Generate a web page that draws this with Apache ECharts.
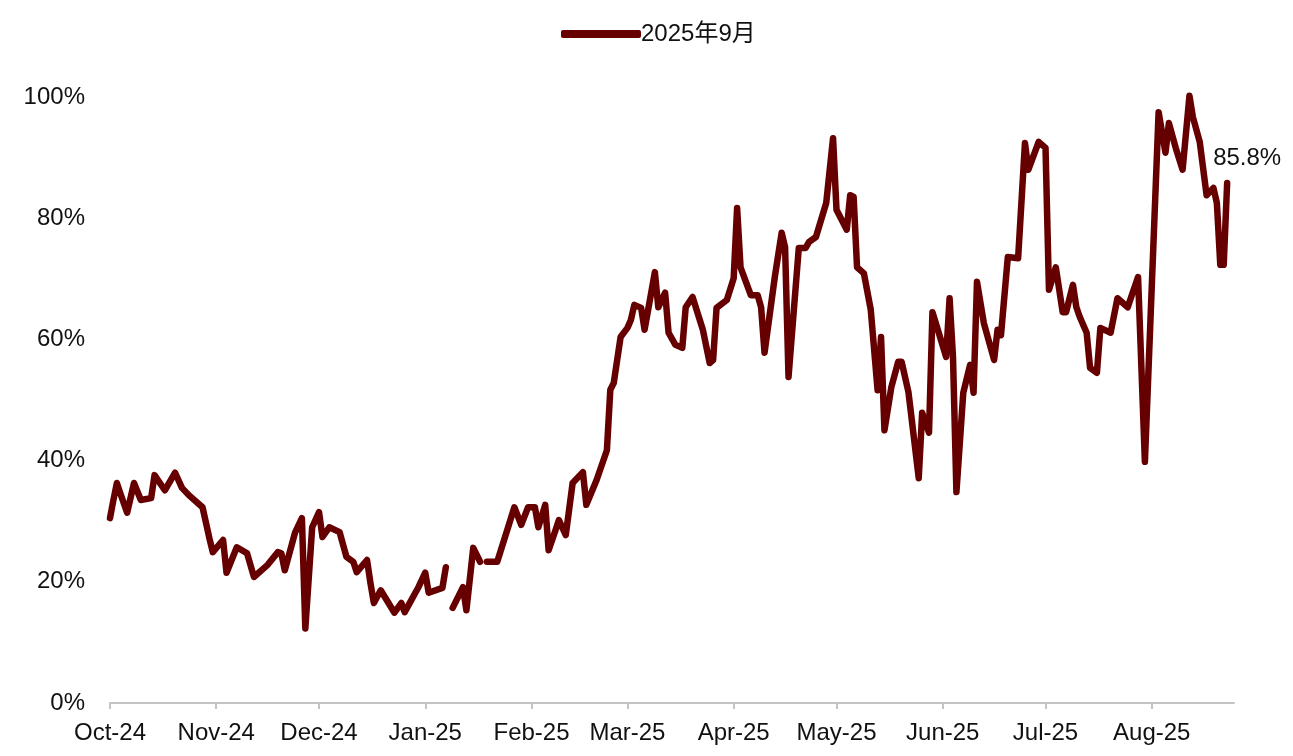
<!DOCTYPE html>
<html>
<head>
<meta charset="utf-8">
<script src="https://cdn.jsdelivr.net/npm/echarts@6/dist/echarts.min.js"></script>
<style>
html,body{margin:0;padding:0;background:#fff;}
#chart{width:1293px;height:756px;}
</style>
</head>
<body>
<div id="chart"></div>
<script>
const seriesName = '2025年9月';
const endLabelText = '85.8%';
const yTicks = [0, 20, 40, 60, 80, 100];
const dates = [
'2024-10-01','2024-10-02','2024-10-03','2024-10-04','2024-10-06','2024-10-08','2024-10-10','2024-10-13','2024-10-14','2024-10-17',
'2024-10-20','2024-10-22','2024-10-24','2024-10-28','2024-10-30','2024-10-31','2024-11-03','2024-11-04','2024-11-07','2024-11-10',
'2024-11-12','2024-11-16','2024-11-19','2024-11-20','2024-11-21','2024-11-24','2024-11-26','2024-11-27','2024-11-29','2024-12-01',
'2024-12-02','2024-12-04','2024-12-07','2024-12-09','2024-12-11','2024-12-12','2024-12-15','2024-12-16','2024-12-17','2024-12-19',
'2024-12-23','2024-12-25','2024-12-26','2024-12-30','2025-01-01','2025-01-02','2025-01-06','2025-01-07','2025-01-08','2025-01-09',
'2025-01-12','2025-01-13','2025-01-15','2025-01-17','2025-01-18','2025-01-19','2025-01-22','2025-01-24','2025-01-27','2025-01-29',
'2025-01-31','2025-02-02','2025-02-03','2025-02-05','2025-02-06','2025-02-08','2025-02-09','2025-02-11','2025-02-13','2025-02-16',
'2025-02-17','2025-02-20','2025-02-23','2025-02-24','2025-02-25','2025-02-27','2025-03-01','2025-03-02','2025-03-03','2025-03-05',
'2025-03-06','2025-03-09','2025-03-10','2025-03-12','2025-03-13','2025-03-15','2025-03-17','2025-03-18','2025-03-20','2025-03-23',
'2025-03-25','2025-03-26','2025-03-27','2025-03-30','2025-04-01','2025-04-02','2025-04-03','2025-04-06','2025-04-08','2025-04-09',
'2025-04-10','2025-04-13','2025-04-15','2025-04-16','2025-04-17','2025-04-20','2025-04-22','2025-04-23','2025-04-25','2025-04-28',
'2025-04-30','2025-05-01','2025-05-04','2025-05-05','2025-05-06','2025-05-07','2025-05-09','2025-05-11','2025-05-13','2025-05-14',
'2025-05-15','2025-05-17','2025-05-19','2025-05-20','2025-05-22','2025-05-25','2025-05-26','2025-05-28','2025-05-29','2025-06-02',
'2025-06-03','2025-06-04','2025-06-05','2025-06-07','2025-06-09','2025-06-10','2025-06-11','2025-06-13','2025-06-16','2025-06-17',
'2025-06-18','2025-06-20','2025-06-23','2025-06-25','2025-06-26','2025-06-29','2025-07-01','2025-07-02','2025-07-04','2025-07-06',
'2025-07-07','2025-07-09','2025-07-10','2025-07-11','2025-07-13','2025-07-14','2025-07-16','2025-07-17','2025-07-20','2025-07-22',
'2025-07-25','2025-07-26','2025-07-28','2025-07-30','2025-08-03','2025-08-05','2025-08-06','2025-08-08','2025-08-10','2025-08-12',
'2025-08-13','2025-08-15','2025-08-17','2025-08-19','2025-08-20','2025-08-21','2025-08-22','2025-08-23'
];
const values = [
30.5,33.5,36.3,34.6,31.4,36.3,33.5,33.8,37.6,35.1,
38.0,35.5,34.3,32.3,27.2,24.9,26.9,21.5,25.7,24.7,
20.8,22.8,24.9,24.7,21.9,28.1,30.5,12.3,29.0,31.5,
27.4,29.0,28.2,24.1,23.3,21.6,23.6,19.8,16.5,18.6,
14.9,16.5,15.0,19.1,21.5,18.2,19.0,22.4,null,15.7,
19.1,15.3,25.6,23.3,null,23.3,23.3,26.9,32.3,29.4,
32.3,32.3,29.0,32.7,25.2,28.5,30.2,27.7,36.3,38.1,
32.7,36.8,41.7,51.7,52.8,60.4,61.9,63.2,65.7,65.2,
61.6,71.1,65.3,67.7,61.1,59.1,58.6,65.3,67.0,61.6,
56.1,56.6,65.2,66.5,70.1,81.7,71.9,67.3,67.3,65.3,
57.8,70.3,77.6,75.2,53.8,75.1,75.1,76.1,76.9,82.5,
93.2,81.4,78.1,83.8,83.5,71.9,70.9,64.9,51.6,60.4,
45.0,52.1,56.3,56.3,51.3,37.1,47.9,44.6,64.5,57.1,
66.8,57.1,34.8,51.2,55.8,51.2,69.5,62.7,56.6,61.6,
60.7,73.6,73.4,92.4,88.0,92.6,91.6,68.2,71.9,64.5,
64.5,69.0,65.3,63.7,61.1,55.3,54.5,61.9,61.1,66.8,
65.3,67.0,70.3,39.8,97.5,90.8,95.7,91.6,88.0,100.2,
96.7,92.6,83.8,85.0,82.5,72.3,72.3,85.8
];
const monthNames = ['Jan','Feb','Mar','Apr','May','Jun','Jul','Aug','Sep','Oct','Nov','Dec'];

const lineColor = '#660000';
const textColor = '#111';
const fontFamily = '"Liberation Sans", Arial, "Noto Sans CJK SC", sans-serif';

const seriesData = dates.map((d, i) => [d, values[i]]);

const chart = echarts.init(document.getElementById('chart'), null, { renderer: 'canvas' });
chart.setOption({
  animation: false,
  backgroundColor: '#fff',
  textStyle: { fontFamily: fontFamily },
  legend: {
    top: 17,
    left: 556,
    data: [{ name: seriesName, icon: 'roundRect' }],
    itemWidth: 80,
    itemHeight: 8,
    itemGap: 4,
    textStyle: { fontSize: 24, color: textColor, fontFamily: fontFamily, padding: [0, 0, 0, -5] }
  },
  grid: { left: 110, right: 59, top: 97, bottom: 53, containLabel: false },
  xAxis: {
    type: 'time',
    min: '2024-10-01',
    max: '2025-08-25',
    minInterval: 28 * 86400000,
    maxInterval: 31 * 86400000,
    splitNumber: 11,
    axisLine: { show: true, lineStyle: { color: '#c4c4c4', width: 2 } },
    axisTick: { show: true, length: 6, lineStyle: { color: '#c4c4c4', width: 2 } },
    splitLine: { show: false },
    minorTick: { show: false },
    axisLabel: {
      color: textColor,
      fontSize: 24,
      margin: 18,
      fontFamily: fontFamily,
      showMaxLabel: false,
      formatter: function (val) {
        const d = new Date(val);
        return monthNames[d.getMonth()] + '-' + String(d.getFullYear()).slice(2);
      }
    }
  },
  yAxis: {
    type: 'value',
    min: yTicks[0],
    max: yTicks[yTicks.length - 1],
    interval: yTicks[1] - yTicks[0],
    axisLine: { show: false },
    axisTick: { show: false },
    splitLine: { show: false },
    axisLabel: {
      color: textColor,
      fontSize: 24,
      margin: 25,
      fontFamily: fontFamily,
      formatter: '{value}%'
    }
  },
  series: [{
    name: seriesName,
    type: 'line',
    data: seriesData,
    showSymbol: false,
    symbol: 'none',
    connectNulls: false,
    clip: false,
    lineStyle: { color: lineColor, width: 6.5, join: 'round', cap: 'round' },
    itemStyle: { color: lineColor },
    endLabel: {
      show: true,
      formatter: endLabelText,
      distance: 5,
      offset: [-19, -25],
      color: textColor,
      fontSize: 24,
      fontFamily: fontFamily
    }
  }]
});
</script>
</body>
</html>
